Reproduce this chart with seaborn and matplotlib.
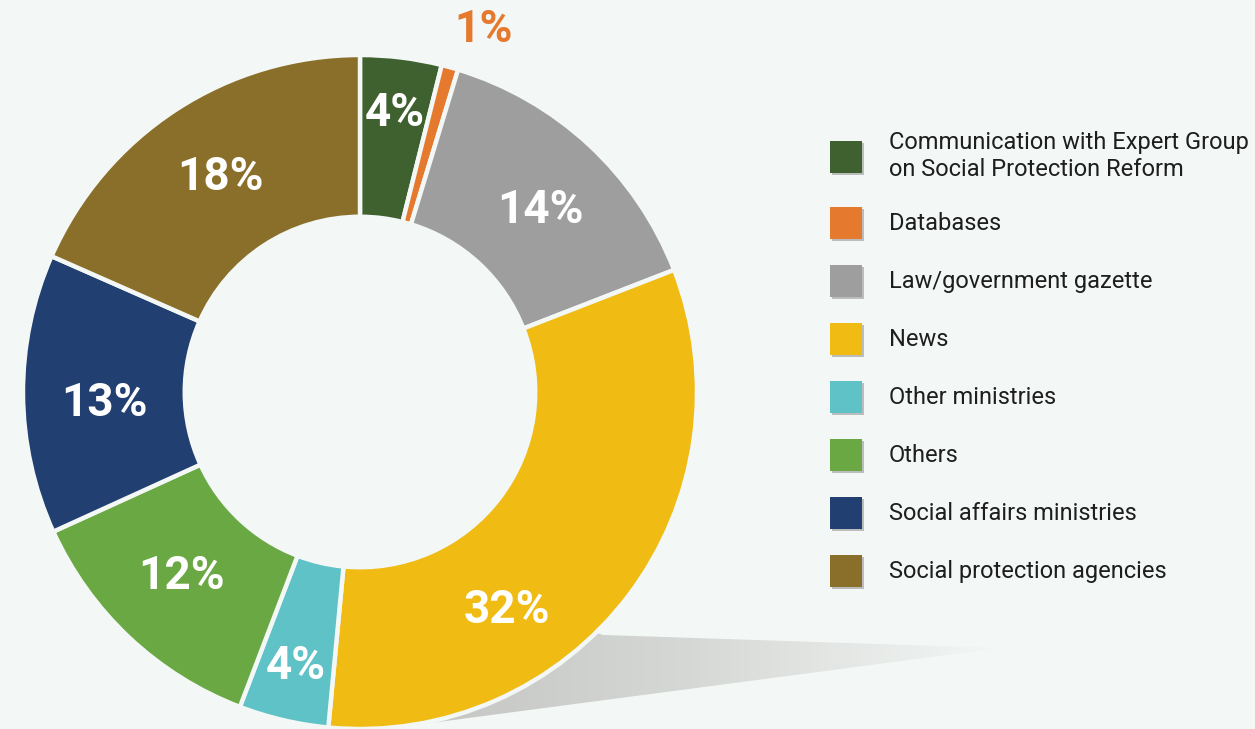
import numpy as np
import matplotlib
matplotlib.use("Agg")
import matplotlib.pyplot as plt
import matplotlib.patheffects as pe
from matplotlib.patches import Patch, Polygon
from matplotlib.colors import LinearSegmentedColormap
import seaborn as sns

# Share of information sources (%)
categories = [
    "Communication with Expert Group\non Social Protection Reform",
    "Databases",
    "Law/government gazette",
    "News",
    "Other ministries",
    "Others",
    "Social affairs ministries",
    "Social protection agencies",
]
shares = [3.9, 0.8, 14.4, 32.4, 4.3, 12.4, 13.4, 18.4]
colors = ["#3f6130", "#e57a2e", "#9d9e9d", "#f0bb12",
          "#5fc2c6", "#6aa843", "#213f70", "#8a6f2a"]

BG = "#f3f7f5"
sns.set_theme(style="white", rc={"figure.facecolor": BG, "axes.facecolor": BG})
plt.rcParams["font.family"] = ["Roboto", "DejaVu Sans"]
palette = sns.color_palette(colors)

W, H = 1255, 729
fig = plt.figure(figsize=(W / 100, H / 100), dpi=100)

# background layer in pixel coordinates, used for the cast shadow
bg = fig.add_axes([0, 0, 1, 1])
bg.set_xlim(0, W)
bg.set_ylim(H, 0)
bg.axis("off")
shadow = Polygon([(603, 635), (1000, 648), (385, 729), (330, 729), (500, 600)],
                 closed=True, facecolor="none", edgecolor="none")
bg.add_patch(shadow)
cmap = LinearSegmentedColormap.from_list("shade", ["#c2c3c0", "#d6d8d5", BG])
grad = np.linspace(0, 1, 256).reshape(1, -1)
img = bg.imshow(grad, cmap=cmap, extent=(380, 1000, 729, 600), aspect="auto",
                interpolation="bicubic")
img.set_clip_path(shadow)

# donut
R = 337
cx, cy = 360, 392
ax = fig.add_axes([(cx - R) / W, (H - cy - R) / H, 2 * R / W, 2 * R / H])
ax.set_facecolor("none")
wedges, _ = ax.pie(shares, colors=palette, startangle=90, counterclock=False,
                   radius=1.0,
                   wedgeprops=dict(width=0.48, edgecolor=BG, linewidth=3.2))
ax.set_xlim(-1, 1)
ax.set_ylim(-1, 1)
ax.set_aspect("equal")
ax.axis("off")

# angular nudge (degrees, clockwise) for the percentage labels
label_nudge = [0, 0, 2, 19, 0, 1, -2, 0]

total = sum(shares)
start = 90.0
for v, c, nudge in zip(shares, colors, label_nudge):
    span = 360.0 * v / total
    mid = np.deg2rad(start - span / 2 - nudge)
    start -= span
    label = f"{v:.0f}%"
    if v < 2:
        r = 1.135
        mid = np.deg2rad(90 - 18.8)
        ax.text(r * np.cos(mid), r * np.sin(mid), label, color=c,
                fontsize=32, fontweight="bold", ha="center", va="center",
                clip_on=False)
    else:
        r = 0.835 if v < 5 else (0.78 if v > 30 else 0.76)
        ax.text(r * np.cos(mid), r * np.sin(mid), label, color="white",
                fontsize=33, fontweight="bold", ha="center", va="center")

# legend
handles = [Patch(facecolor=c, edgecolor="none") for c in colors]
leg = fig.legend(handles, categories, loc="upper left",
                 bbox_to_anchor=(830 / W, 1 - 131 / H), frameon=False,
                 borderaxespad=0, borderpad=0,
                 fontsize=17, handlelength=1.36, handleheight=1.71,
                 handletextpad=1.14, labelspacing=1.1)
for t in leg.get_texts():
    t.set_color("#1e1e1e")
for h in leg.legend_handles:
    h.set_path_effects([pe.SimplePatchShadow(offset=(1.5, -1.5), shadow_rgbFace="#777777",
                                             alpha=0.45), pe.Normal()])

fig.savefig("out.png", dpi=100, facecolor=BG)
